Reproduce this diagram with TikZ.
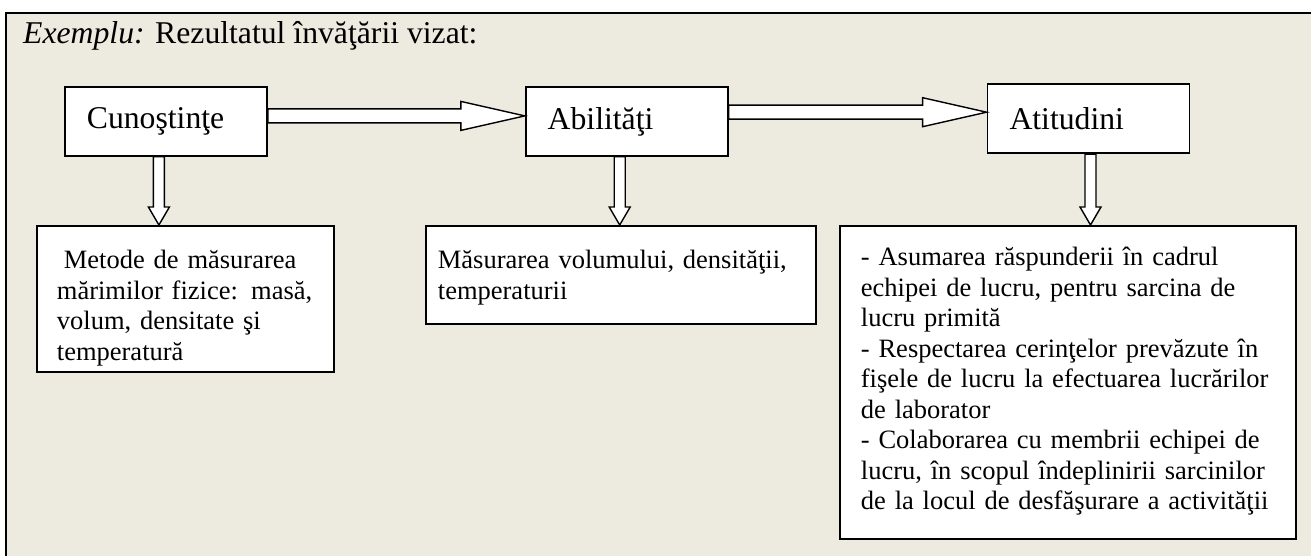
\documentclass[tikz,border=0pt]{standalone}
\usepackage{fontspec}
\setmainfont{Liberation Serif}
\usetikzlibrary{positioning}
\usetikzlibrary{calc}

\definecolor{paper}{RGB}{237,234,224}

% hollow block arrows: from, to, offset
\newcommand{\blockright}[3]{%
  \coordinate (tip) at ([yshift=#3]#2.west);
  \draw[blockarrow] ($(tip -| #1.east)+(0,7)$) -- ($(tip)+(-64,7)$) -- ($(tip)+(-64,14.5)$)
    -- (tip) -- ($(tip)+(-64,-14.5)$) -- ($(tip)+(-64,-7)$) -- ($(tip -| #1.east)+(0,-7)$) -- cycle;}
\newcommand{\blockdown}[3]{%
  \coordinate (tip) at ($(#1.south |- #2.north)+(#3,0)$);
  \draw[blockarrow] ($(tip |- #1.south)+(-5.5,0)$) -- ($(tip)+(-5.5,18)$) -- ($(tip)+(-10.5,18)$)
    -- (tip) -- ($(tip)+(10.5,18)$) -- ($(tip)+(5.5,18)$) -- ($(tip |- #1.south)+(5.5,0)$) -- cycle;}
% struts for the first and the last line of a box
\newcommand{\topstrut}[1]{\rule{0pt}{#1}}
\newcommand{\botstrut}[1]{\rule[-#1]{0pt}{#1}}

\begin{document}
\begin{tikzpicture}[
                x=1pt, y=1pt,
                headbox/.style={rectangle, draw, fill=white, line width=1.8pt, anchor=north west,
                    font=\fontsize{31.7}{36}\selectfont, align=left, text width=158pt,
                    inner xsep=22pt, minimum height=69pt},
                textbox/.style={rectangle, draw, fill=white, line width=1.8pt, anchor=north west,
                    font=\fontsize{26.5}{30.5}\selectfont, align=left, inner ysep=0pt},
                blockarrow/.style={draw, fill=white, line width=1.4pt, line join=miter},
                frameline/.style={draw, line width=2.4pt},
            ]
            \useasboundingbox (0,0) rectangle (1311,-556);
            \fill[white] (0,0) rectangle (1311,-556);
            \fill[paper] (6,-13) rectangle (1325,-570);
            \draw[frameline] (6,-570) -- (6,-13) -- (1325,-13);

            % Nodes
            \node[anchor=base west, inner sep=0pt, font=\fontsize{31.7}{36}\selectfont]
                (title) at (23,-44) {\textit{Exemplu:} Rezultatul învăţării vizat:};

            \node[headbox]      (cunostinte)    at (64,-86)      {Cunoştinţe};
            \node[headbox]      (abilitati)     [right=257pt of cunostinte]    {Abilităţi};
            \node[headbox]      (atitudini)     [right=258pt of abilitati, yshift=2.5pt]    {Atitudini};

            \node[textbox, text width=257pt, inner xsep=20pt]
                (metode) at (36,-225)
                {\topstrut{43pt}\hspace*{7pt}Metode de măsurarea\\ mărimilor fizice: masă,\\
                 volum, densitate şi\\ temperatură\botstrut{11.5pt}};
            \node[textbox, text width=366pt, inner xsep=12pt]
                (masurarea) at (425,-225)
                {\topstrut{43pt}Măsurarea volumului, densităţii,\\ temperaturii\botstrut{24.5pt}};
            \node[textbox, text width=414pt, inner xsep=21pt]
                (asumarea) at (839,-225)
                {\topstrut{40pt}- Asumarea răspunderii în cadrul\\ echipei de lucru, pentru sarcina de\\ lucru primită\\
                 - Respectarea cerinţelor prevăzute în\\ fişele de lucru la efectuarea lucrărilor\\ de laborator\\
                 - Colaborarea cu membrii echipei de\\ lucru, în scopul îndeplinirii sarcinilor\\
                 de la locul de desfăşurare a activităţii\botstrut{29pt}};

            %Lines
            \blockright{cunostinte}{abilitati}{5.5pt}
            \blockright{abilitati}{atitudini}{6.7pt}

            \blockdown{cunostinte}{metode}{-7}
            \blockdown{abilitati}{masurarea}{-7}
            \blockdown{atitudini}{asumarea}{2}
        \end{tikzpicture}
\end{document}
